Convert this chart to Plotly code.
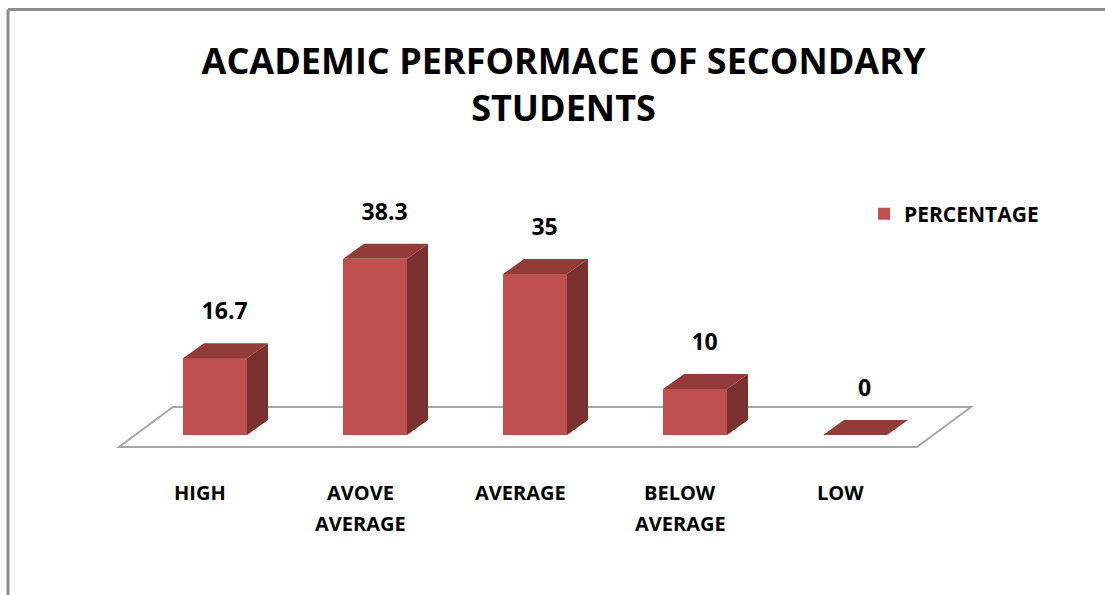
import plotly.graph_objects as go

# ---------------- data ----------------
categories = ["HIGH", "AVOVE<br>AVERAGE", "AVERAGE", "BELOW<br>AVERAGE", "LOW"]
values = [16.7, 38.3, 35, 10, 0]
value_labels = ["16.7", "38.3", "35", "10", "0"]
series_name = "PERCENTAGE"
title_text = "ACADEMIC PERFORMACE OF SECONDARY<br>STUDENTS"

# ---------------- geometry / style ----------------
W, H = 1105, 595
PX_PER_CAT = 160.0       # pixels per category step
PX_PER_UNIT = 4.6        # pixels per value unit
X0_PX, Y0_PX = 215.0, 435.0   # pixel of category 0 / value 0
BAR_W = 0.4
DX = 21 / PX_PER_CAT     # 3D depth offset (x, category units)
DY = 15 / PX_PER_UNIT    # 3D depth offset (y, value units)

FRONT = "#C0504D"
TOP = "#923B39"
SIDE = "#7A302F"
FONT = "Open Sans"

xr = [-X0_PX / PX_PER_CAT, (W - X0_PX) / PX_PER_CAT]
yr = [-(H - Y0_PX) / PX_PER_UNIT, Y0_PX / PX_PER_UNIT]

pos = list(range(len(values)))

fig = go.Figure()

# front faces
fig.add_trace(go.Bar(
    x=pos, y=values, width=BAR_W, name=series_name,
    marker=dict(color=FRONT, line=dict(width=0)),
    showlegend=True, hoverinfo="skip"))

# side faces
sx, sy = [], []
for p, v in zip(pos, values):
    r = p + BAR_W / 2
    sx += [r, r, r + DX, r + DX, None]
    sy += [0, v, v + DY, DY, None]
fig.add_trace(go.Scatter(x=sx, y=sy, mode="lines", fill="toself",
                         fillcolor=SIDE, line=dict(width=0),
                         showlegend=False, hoverinfo="skip"))

# top faces
tx, ty = [], []
for p, v in zip(pos, values):
    l, r = p - BAR_W / 2, p + BAR_W / 2
    tx += [l, r, r + DX, l + DX, None]
    ty += [v, v, v + DY, v + DY, None]
fig.add_trace(go.Scatter(x=tx, y=ty, mode="lines", fill="toself",
                         fillcolor=TOP, line=dict(width=0),
                         showlegend=False, hoverinfo="skip"))

# value labels
fig.add_trace(go.Scatter(
    x=[p + 0.06 for p in pos], y=[v + DY + 6.5 for v in values],
    mode="text", text=value_labels,
    textfont=dict(family=FONT, size=23, color="#000000", weight="bold"),
    showlegend=False, hoverinfo="skip"))

# floor plane (decoration, below traces)
n = len(values)
f_front = -12 / PX_PER_UNIT
f_back = 28 / PX_PER_UNIT
fl_l, fl_r = -0.6, (n - 1) + 0.3875
shift = 54 / PX_PER_CAT
path = (f"M {fl_l},{f_front} L {fl_r},{f_front} L {fl_r + shift},{f_back} "
        f"L {fl_l + shift},{f_back} Z")
fig.add_shape(type="path", path=path, xref="x", yref="y",
              line=dict(color="#A6A6A6", width=2), fillcolor="white",
              layer="below")

# category labels (one annotation per text line for Excel-like line spacing)
LINE_PX = 31
for p, c in zip(pos, categories):
    for k, line in enumerate(c.split("<br>")):
        fig.add_annotation(x=p - 15 / PX_PER_CAT,
                           y=-(492 + k * LINE_PX - Y0_PX) / PX_PER_UNIT,
                           xref="x", yref="y", text=line, showarrow=False,
                           yanchor="middle", xanchor="center", align="center",
                           font=dict(family=FONT, size=20, color="#000000",
                                     weight="bold"))

# chart border (top and left edges visible)
border = dict(color="#8C8C8C", width=3)
fig.add_shape(type="line", xref="paper", yref="paper",
              x0=8 / W, x1=1, y0=1 - 9.5 / H, y1=1 - 9.5 / H, line=border)
fig.add_shape(type="line", xref="paper", yref="paper",
              x0=8 / W, x1=8 / W, y0=0, y1=1 - 9.5 / H, line=border)

fig.update_layout(
    width=W, height=H,
    margin=dict(l=0, r=0, t=0, b=0, pad=0),
    paper_bgcolor="white", plot_bgcolor="white",
    xaxis=dict(range=xr, visible=False, fixedrange=True),
    yaxis=dict(range=yr, visible=False, fixedrange=True),
    title=dict(text=title_text, x=563.5 / W, xanchor="center",
               y=1 - 74 / H, yanchor="middle", yref="container",
               font=dict(family=FONT, size=36, color="#000000", weight="bold")),
    legend=dict(x=864 / W, xanchor="left", y=1 - 214 / H, yanchor="middle",
                font=dict(family=FONT, size=21, color="#000000", weight="bold"),
                bgcolor="rgba(0,0,0,0)", itemwidth=30),
    bargap=0,
    showlegend=True,
)

fig.write_html("out.html",
               config={"displayModeBar": False},
               post_script="document.body.style.margin='0';"
                           "document.body.style.overflow='hidden';")
